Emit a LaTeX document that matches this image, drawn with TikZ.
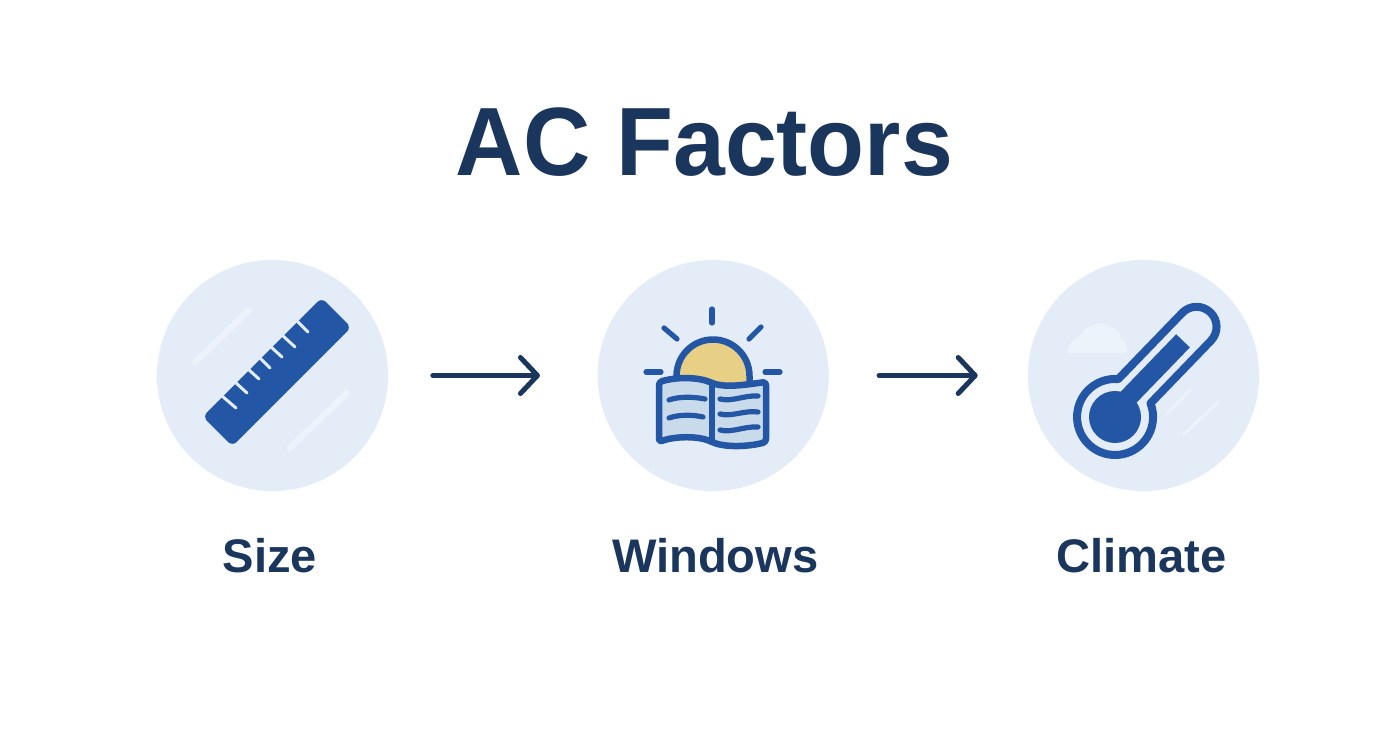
\documentclass[tikz,border=0pt]{standalone}
\usepackage{fontspec}
\setmainfont{Liberation Sans}
\newfontfamily\titlefont[FakeStretch=0.96]{Liberation Sans}
\usetikzlibrary{arrows.meta}
\definecolor{navy}{HTML}{1B365D}
\definecolor{iconblue}{HTML}{2456A6}
\definecolor{disc}{HTML}{E4EDF7}
\definecolor{glare}{HTML}{EDF3FA}
\definecolor{page}{HTML}{C9DAEB}
\definecolor{sun}{HTML}{E8CF86}

\begin{document}
\begin{tikzpicture}[x=0.01cm,y=-0.01cm,line cap=round,line join=round,
                    factor disc/.style={circle,fill=disc,minimum size=2.31cm,inner sep=0pt},
                    factor label/.style={text=navy,font=\fontsize{13.4}{16}\selectfont\bfseries,anchor=base},
                    flow/.style={draw=navy,line width=.05cm,-{Straight Barb[round,length=.17cm,width=.36cm]}},
                    glint/.style={draw=glare,line width=.06cm},
                    ray/.style={draw=iconblue,line width=.052cm},
                    icon line/.style={draw=iconblue,line width=.065cm}]
\useasboundingbox (0,0) rectangle (1392,752);
\fill[white] (0,0) rectangle (1392,752);

\node[text=navy,font=\titlefont\fontsize{27.6}{30}\selectfont\bfseries,anchor=base] (title) at (704.5,175.5) {AC Factors};

\node[factor disc] (size) at (272.5,375.5) {};
\node[factor disc] (windows) [right of=size,node distance=4.405cm] {};
\node[factor disc] (climate) [right of=windows,node distance=4.30cm] {};

\node[factor label] (sizetext) [below of=size,node distance=1.965cm,xshift=-.025cm,anchor=base] {Size};
\node[factor label] (windowstext) [below of=windows,node distance=1.965cm,xshift=.02cm,anchor=base] {Windows};
\node[factor label] (climatetext) [below of=climate,node distance=1.965cm,xshift=-.02cm,anchor=base] {Climate};

\draw[flow,shorten <=.44cm,shorten >=.57cm] (size) -- (windows);
\draw[flow,shorten <=.495cm,shorten >=.495cm] (windows) -- (climate);

\draw[glint] (195,362) -- (249,310);
\draw[glint] (290,448) -- (347,393);
\node[fill=iconblue,rotate=45,minimum width=1.68cm,minimum height=.42cm,rounded corners=.06cm,inner sep=0pt] (ruler) at (277,372) {};
\foreach \xa/\ya/\xb/\yb in {222/396/236/408,235/382/247/393,248/369/259/379,259/357/270/368,271/347/282/357,282/335/295/347,296/320/308/332}
  \draw[draw=disc,line width=.03cm] (\xa,\ya) -- (\xb,\yb);

\foreach \xa/\ya/\xb/\yb in {712/309/712/323,664/328/677/339,761/327/749/339,646/372/661/372,765/372/780/372}
  \draw[ray] (\xa,\ya) -- (\xb,\yb);
\draw[icon line,fill=sun] (676.5,385) -- (676.5,376) arc (180:360:36.5) -- (749.5,385);
\draw[icon line,fill=page,rounded corners=.03cm] (659,382) .. controls (680,376) and (700,378) .. (712,383)
  .. controls (728,388) and (750,384) .. (766,382) -- (766,442)
  .. controls (752,446) and (728,448) .. (712,442)
  .. controls (698,436) and (675,436) .. (659,442) -- cycle;
\draw[icon line] (712,383) -- (712,442);
\draw[ray] (669,400) .. controls (680,396) and (695,397) .. (705,399);
\draw[ray] (669,418) .. controls (680,414) and (695,415) .. (703,417);
\draw[ray] (720,399) .. controls (732,402) and (745,395) .. (758,396);
\draw[ray] (720,414) .. controls (732,417) and (745,410) .. (758,412);
\draw[ray] (720,430) .. controls (732,433) and (745,426) .. (758,427);

\fill[glare] (1068,353) .. controls (1067,345) and (1074,340) .. (1080,336)
  .. controls (1088,322) and (1110,316) .. (1122,338)
  .. controls (1126,343) and (1127,348) .. (1127,353) -- cycle;
\draw[glint,line width=.03cm] (1168,413) -- (1190,390);
\draw[glint,line width=.03cm] (1183,435) -- (1218,402);
\begin{scope}[shift={(1115,417)},rotate=46]
\draw[icon line,line width=.08cm] (34.5,16) -- (121.5,16) arc (90:-90:20) -- (29.5,-24) arc (-39.2:-335.1:38) -- cycle;
\fill[iconblue] (0,0) circle (26);
\fill[iconblue] (0,-13.5) rectangle (102,5.5);
\end{scope}
\end{tikzpicture}
\end{document}
